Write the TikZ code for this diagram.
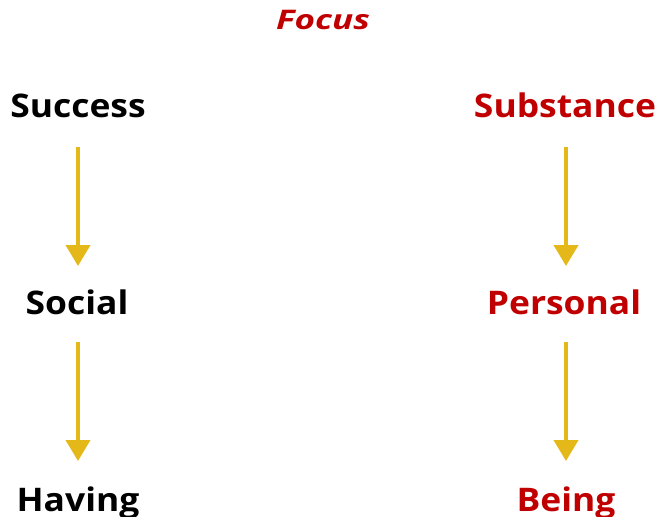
\documentclass[tikz,border=0pt]{standalone}
\usepackage{fontspec}
\setmainfont{Open Sans}
\usetikzlibrary{arrows.meta}
\definecolor{redc}{HTML}{C00000}
\definecolor{goldc}{HTML}{E3B818}
\newcommand{\wide}[1]{\scalebox{1.09}[1]{#1}}
\tikzset{
  lbl/.style={font=\fontsize{32.5}{36}\selectfont\bfseries, inner sep=0pt, anchor=base},
  redlbl/.style={lbl, text=redc},
  arr/.style={draw=goldc, line width=4pt, -{Triangle[width=24pt,length=21pt]}}
}
\begin{document}
\begin{tikzpicture}[x=1pt,y=-1pt]
\useasboundingbox (0,0) rectangle (657,517);
\node[font=\fontsize{27}{30}\selectfont\bfseries\itshape, text=redc, inner sep=0pt, anchor=base] (focus) at (323,29) {\scalebox{1.3}[1]{Focus}};
\node[lbl] (success) at (78,117) {\wide{Success}};
\node[redlbl] (substance) at (565,117) {\wide{Substance}};
\node[lbl] (social) at (77,314) {\wide{Social}};
\node[redlbl] (personal) at (564,314) {\wide{Personal}};
\node[lbl] (having) at (78,511) {\wide{Having}};
\node[redlbl] (being) at (566,511) {\wide{Being}};
\coordinate (a1s) at (78,147); \coordinate (a1e) at (78,266);
\coordinate (a2s) at (566,147); \coordinate (a2e) at (566,266);
\coordinate (a3s) at (78,342); \coordinate (a3e) at (78,461);
\coordinate (a4s) at (566,342); \coordinate (a4e) at (566,461);
\draw[arr] (a1s) -- (a1e);
\draw[arr] (a2s) -- (a2e);
\draw[arr] (a3s) -- (a3e);
\draw[arr] (a4s) -- (a4e);
\end{tikzpicture}
\end{document}
